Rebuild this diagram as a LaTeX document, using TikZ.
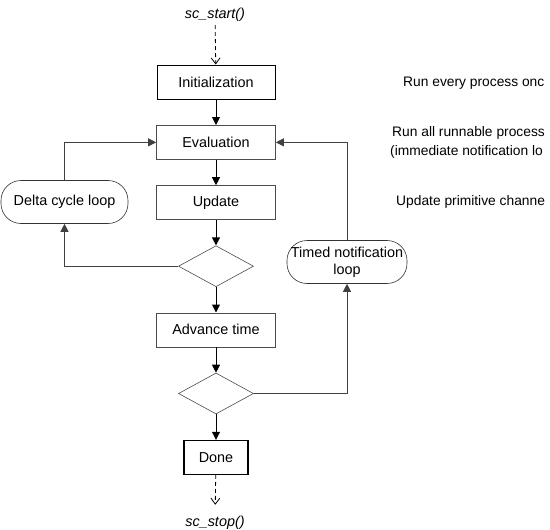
\documentclass[tikz,border=0pt]{standalone}
\usepackage{fontspec}
\setmainfont{Liberation Sans}
\usetikzlibrary{positioning, arrows.meta, shapes.geometric}

\begin{document}
\begin{tikzpicture}[x=1pt, y=-1pt, node distance=25.5pt,
    font=\fontsize{14.4pt}{16pt}\selectfont,
    proc/.style={draw=black!70, line width=0.7pt, rectangle, minimum width=119pt, minimum height=34pt, inner sep=2pt},
    endproc/.style={proc, draw=black, line width=1.1pt},
    decision/.style={draw=black!70, line width=0.6pt, diamond, minimum width=75pt, minimum height=41pt, inner sep=0pt},
    loopnode/.style={draw=black!80, line width=0.6pt, rectangle, rounded corners=20pt, minimum height=43pt, inner sep=2pt, align=center, font=\fontsize{14.4pt}{17pt}\selectfont},
    note/.style={anchor=west, inner sep=0pt, font=\fontsize{13.8pt}{16pt}\selectfont},
    arr/.style={-{Triangle[length=8pt, width=8pt]}, line width=1pt},
    looparr/.style={arr, draw=black!75, line width=0.8pt},
    dasharr/.style={-{Straight Barb[length=6pt, width=9pt]}, dashed, dash pattern=on 4pt off 3pt, line width=0.8pt}]
  \useasboundingbox (0,0) rectangle (550,530);

  % main column
  \node[font=\fontsize{14.4pt}{16pt}\selectfont\itshape] (start) at (215,15) {sc\_start()};
  \node[proc, draw=black, line width=1pt, minimum width=118pt] (init) at (216,82) {Initialization};
  \node[proc] (eval) [below=of init] {Evaluation};
  \node[proc] (upd) [below=of eval] {Update};
  \node[decision] (dec1) [below=of upd] {};
  \node[proc] (adv) [below=of dec1] {Advance time};
  \node[decision] (dec2) [below=of adv] {};
  \node[endproc, minimum width=64pt] (done) [below=of dec2] {Done};
  \node[font=\fontsize{14.4pt}{16pt}\selectfont\itshape] (stop) at (215,523) {sc\_stop()};

  % loops
  \node[loopnode, minimum width=127pt] (delta) at (64.5,202) {Delta cycle loop};
  \node[loopnode, minimum width=120pt] (timed) at (347,262) {Timed notification\\loop};

  % notes (cut off at the right edge, as printed)
  \node[note] (n1) at (403,83) {Run every process onc};
  \node[note] (n2) at (392,133) {Run all runnable process};
  \node[note] (n2b) at (390,152) {(immediate notification lo};
  \node[note] (n3) at (396,202) {Update primitive channe};

  \draw[dasharr] (start) -- (init);
  \draw[arr] (init) -- (eval);
  \draw[arr] (eval) -- (upd);
  \draw[arr] (upd) -- (dec1);
  \draw[arr] (dec1) -- (adv);
  \draw[arr] (adv) -- (dec2);
  \draw[arr] (dec2) -- (done);
  \draw[dasharr, shorten >=8pt] (done) -- (stop);

  \draw[looparr] (dec1.west) -| (delta.south);
  \draw[looparr] (delta.north) |- (eval.west);
  \draw[looparr] (dec2.east) -| (timed.south);
  \draw[looparr] (timed.north) |- (eval.east);
\end{tikzpicture}
\end{document}
